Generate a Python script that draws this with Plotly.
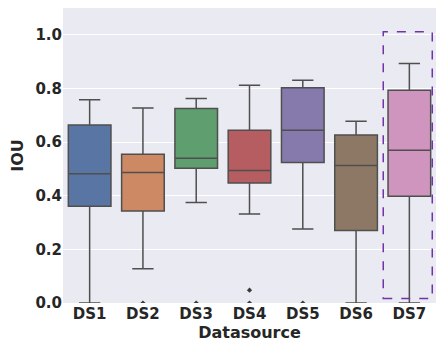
import plotly.graph_objects as go

sources = ["DS1", "DS2", "DS3", "DS4", "DS5", "DS6", "DS7"]
lower = [0.0, 0.128, 0.375, 0.332, 0.276, 0.0, 0.0]
q1 = [0.361, 0.343, 0.502, 0.447, 0.524, 0.270, 0.398]
median = [0.482, 0.487, 0.540, 0.494, 0.644, 0.513, 0.570]
q3 = [0.664, 0.555, 0.725, 0.644, 0.803, 0.626, 0.793]
upper = [0.758, 0.727, 0.763, 0.812, 0.831, 0.678, 0.893]
colors = ["#5975a4", "#cc8963", "#5f9e6e", "#b55d60", "#857aab", "#8d7866", "#d095bf"]

outlier_x = ["DS2", "DS3", "DS4", "DS4", "DS5"]
outlier_y = [0.0, 0.0, 0.048, 0.0, 0.0]

line_gray = "#4f4f4f"
font = "DejaVu Sans, sans-serif"

fig = go.Figure()
for i, name in enumerate(sources):
    fig.add_trace(
        go.Box(
            x=[name],
            q1=[q1[i]],
            median=[median[i]],
            q3=[q3[i]],
            lowerfence=[lower[i]],
            upperfence=[upper[i]],
            fillcolor=colors[i],
            line=dict(color=line_gray, width=1.5),
            width=0.8,
            whiskerwidth=0.5,
            boxpoints=False,
            showlegend=False,
            hoverinfo="skip",
        )
    )

fig.add_trace(
    go.Scatter(
        x=outlier_x,
        y=outlier_y,
        mode="markers",
        marker=dict(symbol="diamond", size=4, color="#3a3a3a"),
        showlegend=False,
        hoverinfo="skip",
    )
)

# highlight box around DS7
fig.add_shape(
    type="rect", xref="x", yref="y",
    x0=5.51, x1=6.43, y0=0.017, y1=1.011,
    line=dict(color="#7233aa", width=1.5, dash="dash"),
    fillcolor="rgba(0,0,0,0)",
)

# page body adds an 8px margin on every side, so the figure is sized to fit the window
fig.update_layout(
    width=428,
    height=337,
    margin=dict(l=55, r=0, t=0, b=42),
    paper_bgcolor="white",
    plot_bgcolor="#EAEAF2",
    font=dict(family=font, color="#262626"),
    xaxis=dict(
        categoryorder="array",
        categoryarray=sources,
        range=[-0.5, 6.5],
        showgrid=False,
        zeroline=False,
        ticks="",
        tickfont=dict(size=15, family=font, weight="bold"),
        title=dict(text="Datasource", font=dict(size=16, weight="bold"), standoff=4),
    ),
    yaxis=dict(
        range=[0, 1.1],
        tickvals=[0, 0.2, 0.4, 0.6, 0.8, 1.0],
        tickformat=".1f",
        gridcolor="white",
        gridwidth=1,
        zeroline=False,
        ticks="",
        tickfont=dict(size=15, family=font, weight="bold"),
        title=dict(text="IOU", font=dict(size=16, weight="bold"), standoff=8),
    ),
)

fig.write_html("out.html")
